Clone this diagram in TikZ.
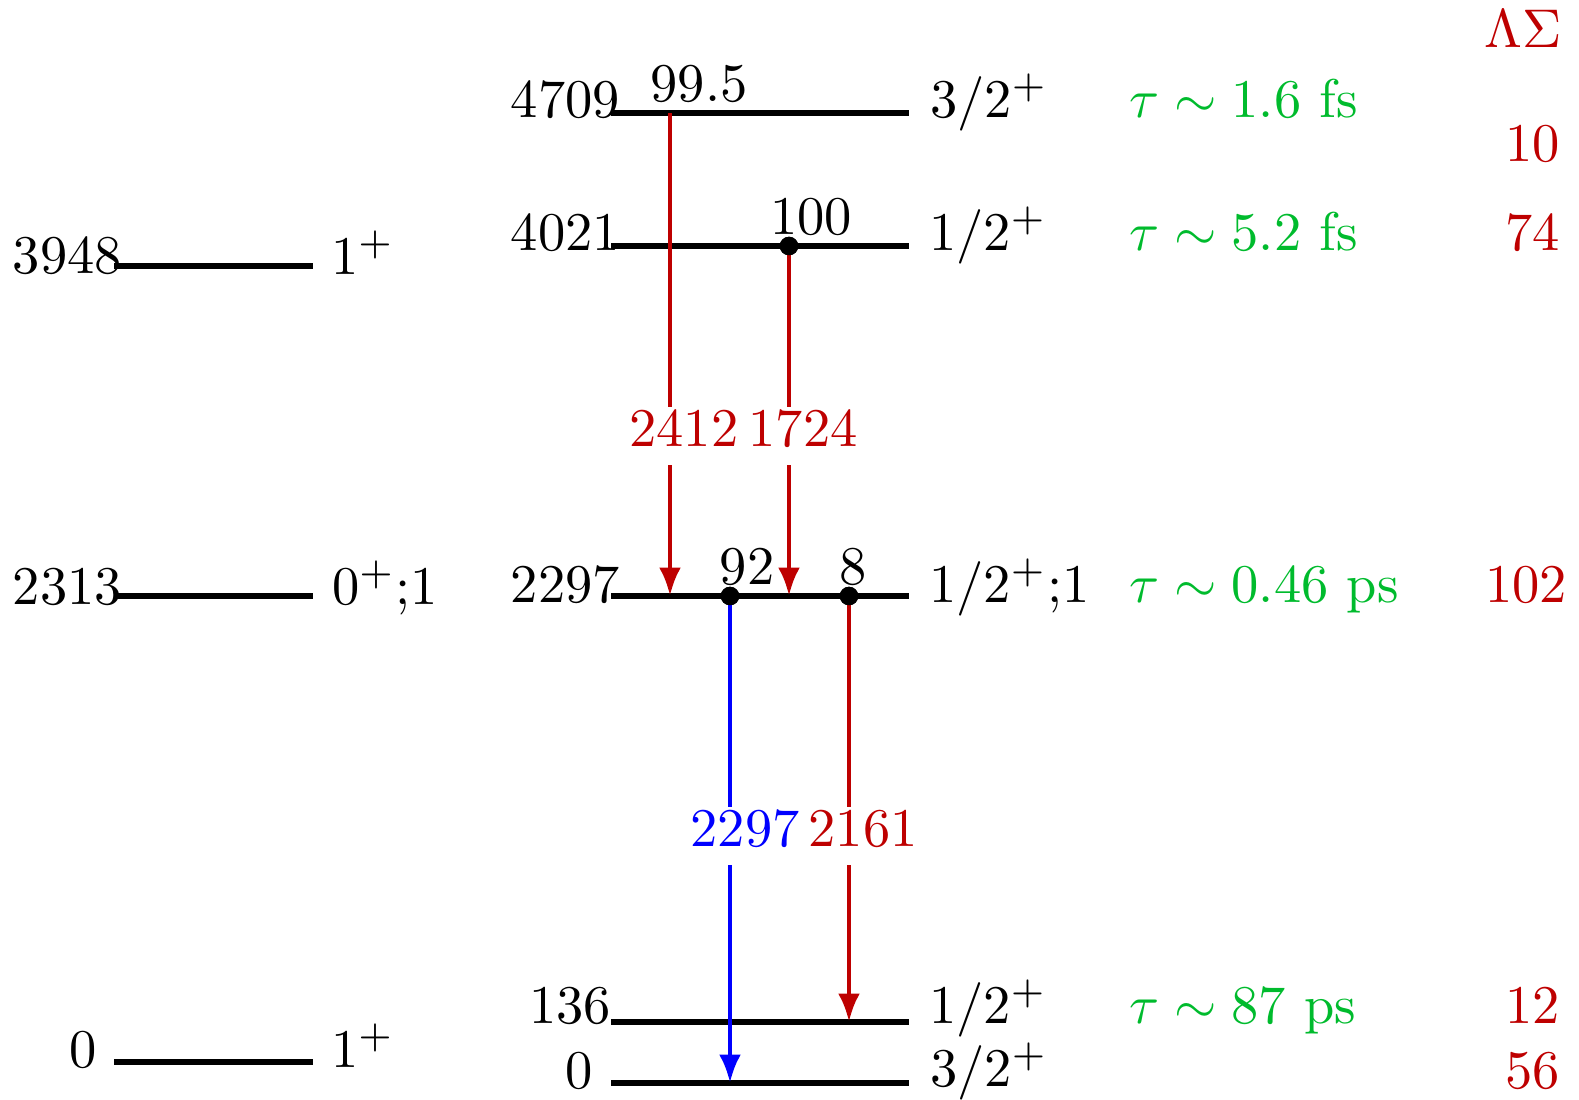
\documentclass[tikz,border=0pt]{standalone}
\usetikzlibrary{arrows.meta}
\definecolor{lvred}{RGB}{190,0,0}
\definecolor{lvgreen}{RGB}{0,187,45}
\definecolor{lvblue}{RGB}{0,0,255}
\begin{document}
\begin{tikzpicture}[x=0.1835pt,y=-0.1835pt,
  level/.style={line width=0.95pt},
  txt/.style={inner sep=0pt},
  gam/.style={line width=0.9pt,-{Latex[length=5.2pt,width=4pt]}},
  glabel/.style={inner sep=0pt,fill=white,text height=7.2pt,text depth=3.5pt,anchor=base},
  dotn/.style={circle,fill=black,inner sep=0pt,minimum size=3.4pt},
  lt/.style={txt,anchor=base east},
  rt/.style={txt,anchor=base west},
  ct/.style={txt,anchor=base}
]
\useasboundingbox (0,0) rectangle (1579,1100);

% ---- left column levels
\coordinate (La1) at (114,266); \coordinate (La2) at (313,266);
\coordinate (Lb1) at (114,596); \coordinate (Lb2) at (313,596);
\coordinate (Lc1) at (114,1062); \coordinate (Lc2) at (313,1062);
\draw[level] (La1) -- (La2);
\draw[level] (Lb1) -- (Lb2);
\draw[level] (Lc1) -- (Lc2);
\node[lt] (e3948) at (123,273) {3948};
\node[rt] (j3948) at (330,274) {$1^+$};
\node[lt] (e2313) at (123,604) {2313};
\node[rt] (j2313) at (331,604) {$0^+$;1};
\node[lt] (e0a) at (98,1067) {0};
\node[rt] (j0a) at (330,1067) {$1^+$};

% ---- middle column levels
\coordinate (M1a) at (611,113); \coordinate (M1b) at (909,113);
\coordinate (M2a) at (611,246); \coordinate (M2b) at (909,246);
\coordinate (M3a) at (611,596); \coordinate (M3b) at (909,596);
\coordinate (M4a) at (611,1022); \coordinate (M4b) at (909,1022);
\coordinate (M5a) at (611,1083); \coordinate (M5b) at (909,1083);
\draw[level] (M1a) -- (M1b);
\draw[level] (M2a) -- (M2b);
\draw[level] (M3a) -- (M3b);
\draw[level] (M4a) -- (M4b);
\draw[level] (M5a) -- (M5b);

\node[lt] (e4709) at (621,117) {4709};
\node[ct] (b4709) at (699,101) {99.5};
\node[rt] (j4709) at (929,117) {$3/2^+$};
\node[lt] (e4021) at (621,250) {4021};
\node[ct] (b4021) at (811,234) {100};
\node[rt] (j4021) at (928,250) {$1/2^+$};
\node[lt] (e2297) at (621,602) {2297};
\node[ct] (b92) at (747,584) {92};
\node[ct] (b8) at (853,584) {8};
\node[rt] (j2297) at (928,602) {$1/2^+$;1};
\node[lt] (e136) at (612,1023) {136};
\node[rt] (j136) at (928,1023) {$1/2^+$};
\node[lt] (e0b) at (594,1088) {0};
\node[rt] (j0b) at (929,1086) {$3/2^+$};

% ---- lifetimes
\begin{scope}[text=lvgreen]
\node[rt] (tau1) at (1128,117) {$\tau \sim 1.6$~fs};
\node[rt] (tau2) at (1128,250) {$\tau \sim 5.2$~fs};
\node[rt] (tau3) at (1128,602) {$\tau \sim 0.46$~ps};
\node[rt] (tau4) at (1128,1023) {$\tau \sim 87$~ps};
\end{scope}

% ---- right column
\begin{scope}[text=lvred]
\node[lt] (hLS) at (1563,47) {$\Lambda\Sigma$};
\node[lt] (r4709) at (1561,161) {10};
\node[lt] (r4021) at (1561,250) {74};
\node[lt] (r2297) at (1568,602) {102};
\node[lt] (r136) at (1561,1023) {12};
\node[lt] (r0) at (1561,1088) {56};
\end{scope}

% ---- transitions
\coordinate (g1s) at (670,113); \coordinate (g1e) at (670,596);
\node[dotn] (d100) at (789,246) {};
\coordinate (g2e) at (789,596);
\node[dotn] (d92) at (730,596) {};
\coordinate (g3e) at (730,1083);
\node[dotn] (d8) at (849,596) {};
\coordinate (g4e) at (849,1022);

\draw[gam,lvred] (g1s) -- (g1e);
\draw[gam,lvred] (d100.center) -- (g2e);
\draw[gam,lvblue] (d92.center) -- (g3e);
\draw[gam,lvred] (d8.center) -- (g4e);
\node[dotn] at (d100) {};
\node[dotn] at (d92) {};
\node[dotn] at (d8) {};

\node[glabel,text=lvred] (l2412) at (684,446) {2412};
\node[glabel,text=lvred] (l1724) at (803,446) {1724};
\node[glabel,text=lvblue] (l2297) at (745,846) {2297};
\node[glabel,text=lvred] (l2161) at (863,846) {2161};
\end{tikzpicture}
\end{document}
